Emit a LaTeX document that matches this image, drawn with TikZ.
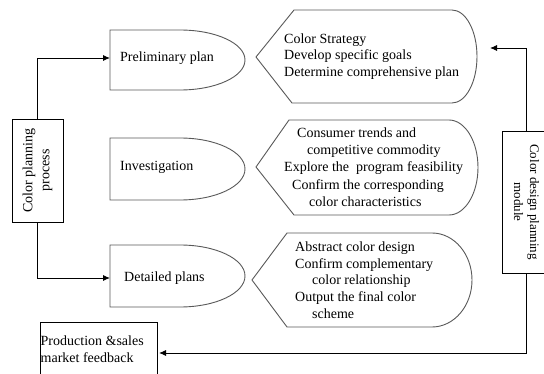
\documentclass[tikz,border=0pt]{standalone}
\usepackage{fontspec}
\setmainfont{Liberation Serif}
\usetikzlibrary{arrows.meta}
\begin{document}
\begin{tikzpicture}[x=1pt,y=-1pt,
  conn/.style={draw=black, line width=0.9pt, -{Latex[length=7pt,width=6pt]}},
  shp/.style={draw=black!65, line width=0.9pt},
  txt/.style={font=\fontsize{14}{16.5}\selectfont, inner sep=0pt},
  vbox/.style={draw=black, line width=0.9pt, align=center, inner sep=0pt}]
\clip (0,0) rectangle (544,374);
\fill[white] (0,0) rectangle (544,374);

% left delay shapes
\draw[shp] (110,30) -- (180,30) .. controls (215.9,30) and (245,43.4) .. (245,60)
  .. controls (245,76.6) and (215.9,90) .. (180,90) -- (110,90) -- cycle;
\draw[shp] (110,138) -- (180,138) .. controls (215.9,138) and (245,151.9) .. (245,169)
  .. controls (245,186.1) and (215.9,200) .. (180,200) -- (110,200) -- cycle;
\draw[shp] (110,245) -- (180,245) .. controls (215.9,245) and (245,258.9) .. (245,276)
  .. controls (245,293.1) and (215.9,307) .. (180,307) -- (110,307) -- cycle;

\node[txt, anchor=west] (prelim) at (120,58) {Preliminary plan};
\node[txt, anchor=west] (invest) at (120,167) {Investigation};
\node[txt, anchor=west] (detail) at (124,278) {Detailed plans};

% right display shapes
\draw[shp] (256,57) -- (294,10) -- (452,10) .. controls (465.8,10) and (477,30.8) .. (477,56.5)
  .. controls (477,82.2) and (465.8,103) .. (452,103) -- (292,103) -- cycle;
\draw[shp] (256,167) -- (289,120) -- (449,120) .. controls (465,120) and (478,141.3) .. (478,167.5)
  .. controls (478,193.7) and (465,215) .. (449,215) -- (294,215) -- cycle;
\draw[shp] (252,280) -- (287,233) -- (432,233) .. controls (454,233) and (472,254) .. (472,280)
  .. controls (472,306) and (454,327) .. (432,327) -- (287,327) -- cycle;

\node[txt, anchor=west, align=left] (strat) at (284,56.5)
  {Color Strategy\\Develop specific goals\\Determine comprehensive plan};
\node[txt, anchor=west, align=left, font=\fontsize{14}{17.3}\selectfont] (consum) at (284,167)
  {\hspace*{13pt}Consumer trends and\\\hspace*{23pt}competitive commodity\\Explore the\ \ program feasibility\\\hspace*{8pt}Confirm the corresponding\\\hspace*{25pt}color characteristics};
\node[txt, anchor=west, align=left, font=\fontsize{14}{16.7}\selectfont] (abstr) at (295,280)
  {Abstract color design\\Confirm complementary\\\hspace*{17pt}color relationship\\Output the final color\\\hspace*{17pt}scheme};

% side boxes
\node[vbox, rotate=90, minimum width=103pt, minimum height=51pt,
  font=\fontsize{14}{17}\selectfont] (lp) at (37.5,170.5) {Color planning\\process};
\node[vbox, rotate=-90, minimum width=142pt, minimum height=49pt,
  font=\fontsize{13}{16}\selectfont] (rb) at (526.5,202) {Color design planning\\module};

\node[draw=black, line width=1.2pt, minimum width=117pt, minimum height=70pt,
  anchor=north west, inner sep=0pt] (prod) at (40,322) {};
\node[txt, anchor=west, align=left] (prodtxt) at (40.5,349) {Production \&sales\\market feedback};

% connector end points
\coordinate (prelimW) at (110,58);
\coordinate (detailW) at (110,278);
\coordinate (stratE) at (490,48);
\coordinate (prodE) at (159,353);

\draw[conn] (lp.east) |- (prelimW);
\draw[conn] (lp.west) |- (detailW);
\draw[conn] (rb.west) |- (stratE);
\draw[conn] (rb.east) |- (prodE);
\end{tikzpicture}
\end{document}
